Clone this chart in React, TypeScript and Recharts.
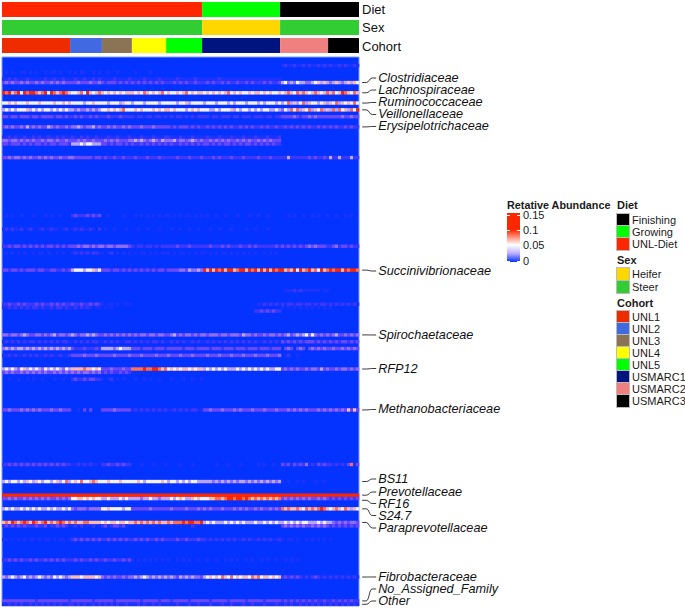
import React from 'react'
import { ComposedChart, Scatter, XAxis, YAxis, ReferenceArea } from 'recharts'

const FONT = '"Liberation Sans", Arial, sans-serif'
const WIDTH = 685
const HEIGHT = 609
// x axis is in columns of 3px, y axis in taxon rows of 3.41px
const CELL_W = 3
const CELL_H = 3.41
const COLS = 119
const ROWS = 161

const cohortStarts = [0, 23, 33, 43, 55, 67, 93, 109]

const dietSegments = [
  { name: 'UNL-Diet', from: 0, to: 66.7, color: '#ff2600' },
  { name: 'Growing', from: 66.7, to: 92.7, color: '#00ff00' },
  { name: 'Finishing', from: 92.7, to: 119, color: '#000000' },
]
const sexSegments = [
  { name: 'Steer', from: 0, to: 66.7, color: '#32cd32' },
  { name: 'Heifer', from: 66.7, to: 92.7, color: '#ffd700' },
  { name: 'Steer', from: 92.7, to: 119, color: '#32cd32' },
]
const cohortSegments = [
  { name: 'UNL1', from: 0, to: 22.7, color: '#ee2c00' },
  { name: 'UNL2', from: 22.7, to: 33.3, color: '#4169e1' },
  { name: 'UNL3', from: 33.3, to: 43.3, color: '#8b7355' },
  { name: 'UNL4', from: 43.3, to: 54.7, color: '#ffff00' },
  { name: 'UNL5', from: 54.7, to: 66.7, color: '#00ff00' },
  { name: 'USMARC1', from: 66.7, to: 92.7, color: '#00147f' },
  { name: 'USMARC2', from: 92.7, to: 108.7, color: '#f08080' },
  { name: 'USMARC3', from: 108.7, to: 119, color: '#000000' },
]

// abundance level per column (0 = none, 9 = 0.1 and above), one chunk per cohort
const heatRows: [number, string][] = [
  [2, '0 0 0 0 0 0 1211211212112121 2112121121'],
  [4, '01010011010100101101001 0101100101 0010010000 010000100000 0 0 0 0'],
  [6, '11212111211111211211211 1211211212 1111211112 111121111211 111211111211 11111211111111111111111111 0 0'],
  [7, '34343343433434334343433 3343334334 3233323232 323232323232 223232322322 23232232322322323222323223 5645465544567575 4575457576'],
  [10, '98978969899878969878987 6678697678 7676767677 767687676786 766767867677 67676767867676676776767667 6787687876787678 7867987687'],
  [13, '66767666766676666766767 6666566766 6656665766 566656666566 666566756666 56665666565666566656566656 5685756857665675 7685767686'],
  [15, '56565666756565665656565 5454454545 6676767866 676766676767 767666567676 66556566675656656565665565 4658685768576857 5858675869'],
  [17, '33233233323323333233232 2323223232 2232223222 212212212212 121221212122 22122122212212221222122122 3333432334343333 3333433433'],
  [20, '34343343534343354343343 4454344534 3343433434 333433343333 323233323232 23232323232232323223232232 2323232323223232 3232232322'],
  [23, '11212112112121121121211 2112121121 1121121112 111211121112 211121112111 12111211121112111211121112 0 0'],
  [24, '44344343434334344343343 3343433433 3434343334 454543454354 445344345434 33434343433434343343434333 0 0'],
  [25, '33233323232332323323332 5556566555 3323233232 322323232323 232232323232 33232323323232332323232322 0 0'],
  [29, '33434434343343434334334 4333333233 2322322322 232223222322 222322232223 22232322232223222232223222 2252222223232232 5225222522'],
  [46, '0101001000100010100100 2322232323 0010000100 010101010101 101010110101 01001001000100010010010000 0010100100101001 0010010100'],
  [50, '12121120121012012110120 1212112102 0100100010 001001000100 010010010010 00100100010000100100010000 0 0'],
  [55, '22323323232323233232323 3343443434 4344344443 212212212122 222322232222 22322232322232232322222232 3232323234343332 2342332322'],
  [57, '01010101001011010010100 1212121221 1012010101 010110101011 101011010101 10101011010101010100101010 0 0'],
  [62, '33233232333233223322323 5666566756 3332332323 232323232332 333344354454 97979897997899798979797989 9787969789786978 9899798998'],
  [68, '0 0 0 0 0 0 0111212111111011 0'],
  [72, '22322323222323223232322 3223223232 1011010011 0 0 00000000000000000011212121 2122122122121221 2121212121'],
  [73, '11212121212212112122121 1212121011 0101000000 0 0 0 1010101010101010 1'],
  [74, '0 0 0 0 0 00000000000000000223232322 0 0'],
  [81, '44344345433443434534434 5434454543 3434343434 343443443443 345343443434 43444344344435443433434434 3453454564643434 3453343434'],
  [83, '12121212122121212121221 1212121221 1212121122 121212122121 121212112121 12121212121212121211212121 3232323233323232 3232332323'],
  [85, '45454554545454545454545 3222322232 5555456555 333233323332 333332333233 33233323332333233323332333 0343034303434343 3433434343'],
  [87, '11212112121211212112112 3333433343 3333433334 333433334333 433343334333 34333433343334333433343334 0120010000000000 0'],
  [91, '56565467565654656565465 7777877676 3334333433 888898899878 676767767677 56565656555656565656565566 3434343343443534 3343443434'],
  [92, '34343343434343433434343 4343443434 2323223232 0 0 0 0 0'],
  [94, '00100100101001000100100 2322323322 1012010100 010010100100 010001001001 0 0 0'],
  [103, '33433343434343334334333 0010303000 3333433333 121212121212 112121212211 33433343334343334333433343 3343434343334343 4343437373'],
  [119, '22323232323232323232322 1121212110 2232232322 000100010001 000010001000 00001000100010000010100100 3231323241213232 2121213813'],
  [124, '56566565765765665675685 6768667876 6676667666 667656666676 566565656655 55545454545455454545454545 1010010100010010 0'],
  [128, '99999999999999999999999 9999999999 9999999999 999999999999 999999999999 99999999999999999999999999 9999999999999999 9999999999'],
  [129, '33434334343434343343434 6677676766 5565556565 555455655455 565676557676 66778878998998987878787878 3434343434334343 2323232323'],
  [132, '56565565656565565655656 4344434444 6676666566 333333433333 343333433343 43433343334343433434334343 8787787687878987 6787687576'],
  [136, '78798789879878978789878 7877887777 6767767767 787878787877 878889899889 56565556565656555655656565 5656565665556565 5434343443'],
  [137, '23232323222322312232321 1202010201 2312332310 000100010000 010010002100 0 3434343433434343 2323232323'],
  [141, '11010101011010110101101 2323232323 2232323232 232323223232 222322322232 21212121212112121121212112 1011010010101010 1'],
  [147, '22323232232322323232322 2323223232 2322322323 101010101010 100101010010 01001001010100101001010010 0101010 0'],
  [152, '54565456454565454656545 7776777767 4343433434 454565454545 454354545443 56767687686767768786776767 2323232121232121 2121212121'],
  [159, '33333333333233333333332 3333333233 3333233333 333233333233 323333323333 33233333233333233333233333 2323232323232232 2323232322'],
  [160, '11212121121212121212112 2121211212 1212121121 112121121211 111211121121 11211121121112112111211121 1212112121212121 2121212121'],
]

const levelColors = ['#0433ff', '#1a33ff', '#3d38ff', '#6a48ff', '#8f6cff', '#bba5ff', '#f6f1ff', '#ffb9a8', '#ff6f4f', '#ff2600']

const trackLabels = [
  { name: 'Diet', col: 120, pos: -14 },
  { name: 'Sex', col: 120, pos: -8.7 },
  { name: 'Cohort', col: 120, pos: -3.2 },
]

// from = row centre the leader starts at, pos = where the text sits
const familyLabels = [
  { name: 'Clostridiaceae', col: 125.4, pos: 6.16, from: 7.5 },
  { name: 'Lachnospiraceae', col: 125.4, pos: 9.68, from: 10.5 },
  { name: 'Ruminococcaceae', col: 125.4, pos: 13.34, from: 13.5 },
  { name: 'Veillonellaceae', col: 125.4, pos: 16.86, from: 15.5 },
  { name: 'Erysipelotrichaceae', col: 125.4, pos: 20.38, from: 20.5 },
  { name: 'Succinivibrionaceae', col: 125.4, pos: 62.76, from: 62.5 },
  { name: 'Spirochaetaceae', col: 125.4, pos: 81.52, from: 81.5 },
  { name: 'RFP12', col: 125.4, pos: 91.35, from: 91.5 },
  { name: 'Methanobacteriaceae', col: 125.4, pos: 103.37, from: 103.5 },
  { name: 'BS11', col: 125.4, pos: 123.75, from: 124.5 },
  { name: 'Prevotellaceae', col: 125.4, pos: 127.57, from: 128.5 },
  { name: 'RF16', col: 125.4, pos: 130.94, from: 130 },
  { name: 'S24.7', col: 125.4, pos: 134.46, from: 132.5 },
  { name: 'Paraprevotellaceae', col: 125.4, pos: 138.12, from: 136.5 },
  { name: 'Fibrobacteraceae', col: 125.4, pos: 152.49, from: 152.5 },
  { name: 'No_Assigned_Family', col: 125.4, pos: 156.01, from: 159.5 },
  { name: 'Other', col: 125.4, pos: 159.53, from: 160.5 },
]

const legendGroups = [
  { title: 'Diet', top: 200, rowTops: [214, 226, 238], items: [['Finishing', '#000000'], ['Growing', '#00ff00'], ['UNL-Diet', '#ff2600']] },
  { title: 'Sex', top: 255, rowTops: [268, 281], items: [['Heifer', '#ffd700'], ['Steer', '#32cd32']] },
  {
    title: 'Cohort',
    top: 298,
    rowTops: [311, 323, 335, 347, 359, 371, 383, 395],
    items: cohortSegments.map((s) => [s.name, s.color]),
  },
]
const scaleTicks = [
  { label: '0.15', top: 215 },
  { label: '0.1', top: 230 },
  { label: '0.05', top: 245 },
  { label: '0', top: 261 },
]

const cells = heatRows.flatMap(([row, levels]) =>
  levels.split(' ').flatMap((chunk, i) =>
    chunk.split('').map((ch, j) => ({ col: cohortStarts[i] + j + 0.5, pos: row + 0.5, level: Number(ch) })),
  ),
).filter((c) => c.level > 0 && c.col < COLS)

const HeatCell = (p: any) => (
  <rect x={p.cx - CELL_W / 2} y={p.cy - CELL_H / 2} width={CELL_W + 0.3} height={CELL_H} fill={levelColors[p.payload.level]} />
)

const TrackLabel = (p: any) => (
  <text x={p.cx} y={p.cy} fontSize={13} fontFamily={FONT} fill="#111" dominantBaseline="central">
    {p.payload.name}
  </text>
)

const FamilyLabel = (p: any) => {
  const x0 = p.cx - 16
  const y1 = p.cy
  const y0 = p.cy + (p.payload.from - p.payload.pos) * CELL_H
  const d = `M${x0} ${y0} h4 C${x0 + 7} ${y0} ${x0 + 7} ${y1} ${x0 + 10} ${y1} h4`
  return (
    <g>
      <path d={d} fill="none" stroke="#222" strokeWidth={0.9} />
      <text x={p.cx} y={p.cy} fontSize={12.7} fontStyle="italic" fontFamily={FONT} fill="#111" dominantBaseline="central">
        {p.payload.name}
      </text>
    </g>
  )
}

const legendText: React.CSSProperties = { position: 'absolute', fontFamily: FONT, fontSize: 11, lineHeight: '10px', color: '#1a1a1a', whiteSpace: 'nowrap' }

const HeatLegend = () => (
  <>
    <div style={{ ...legendText, left: 507, top: 200, fontSize: 10.8, fontWeight: 'bold' }}>Retative Abundance</div>
    <div
      style={{
        position: 'absolute',
        left: 507,
        top: 213,
        width: 13,
        height: 49,
        background: 'linear-gradient(to bottom, #ff2600 0%, #ff2600 34%, #ffffff 65%, #c0b0ff 82%, #0433ff 100%)',
      }}
    />
    {scaleTicks.map((t) => (
      <React.Fragment key={t.label}>
        <div style={{ position: 'absolute', left: 507, top: t.top, width: 3, height: 1, background: '#fff' }} />
        <div style={{ position: 'absolute', left: 517, top: t.top, width: 3, height: 1, background: '#fff' }} />
        <div style={{ ...legendText, left: 523, top: t.top - 5 }}>{t.label}</div>
      </React.Fragment>
    ))}
    {legendGroups.map((g) => (
      <React.Fragment key={g.title}>
        <div style={{ ...legendText, left: 617, top: g.top, fontWeight: 'bold' }}>{g.title}</div>
        {g.items.map(([name, color], i) => (
          <React.Fragment key={name}>
            <div style={{ position: 'absolute', left: 617, top: g.rowTops[i], width: 12, height: 12, background: color, outline: '0.5px solid #bbb' }} />
            <div style={{ ...legendText, left: 632, top: g.rowTops[i] + 1 }}>{name}</div>
          </React.Fragment>
        ))}
      </React.Fragment>
    ))}
  </>
)

const trackBands = [
  { segments: dietSegments, y1: -16.13, y2: -11.73 },
  { segments: sexSegments, y1: -10.85, y2: -6.45 },
  { segments: cohortSegments, y1: -5.57, y2: -1.17 },
]

export default function App() {
  return (
    <div style={{ position: 'absolute', left: 0, top: 0, width: WIDTH, height: HEIGHT }}>
      <style>{'.heat-cells { filter: blur(0.45px); }'}</style>
      <ComposedChart width={WIDTH} height={HEIGHT} margin={{ top: 0, right: 0, bottom: 0, left: 0 }}>
        <XAxis type="number" dataKey="col" domain={[-2 / CELL_W, (WIDTH - 2) / CELL_W]} hide />
        <YAxis type="number" dataKey="pos" domain={[-57 / CELL_H, (HEIGHT - 57) / CELL_H]} reversed hide />
        <ReferenceArea x1={0} x2={COLS} y1={0} y2={ROWS} fill={levelColors[0]} fillOpacity={1} stroke="#7f9bff" strokeWidth={1} />
        {trackBands.flatMap((band) =>
          band.segments.map((s) => (
            <ReferenceArea key={`${band.y1}-${s.from}`} x1={s.from} x2={s.to} y1={band.y1} y2={band.y2} fill={s.color} fillOpacity={1} stroke="none" />
          )),
        )}
        <Scatter className="heat-cells" data={cells} shape={HeatCell} isAnimationActive={false} />
        <Scatter data={trackLabels} shape={TrackLabel} isAnimationActive={false} />
        <Scatter data={familyLabels} shape={FamilyLabel} isAnimationActive={false} />
      </ComposedChart>
      <HeatLegend />
    </div>
  )
}
